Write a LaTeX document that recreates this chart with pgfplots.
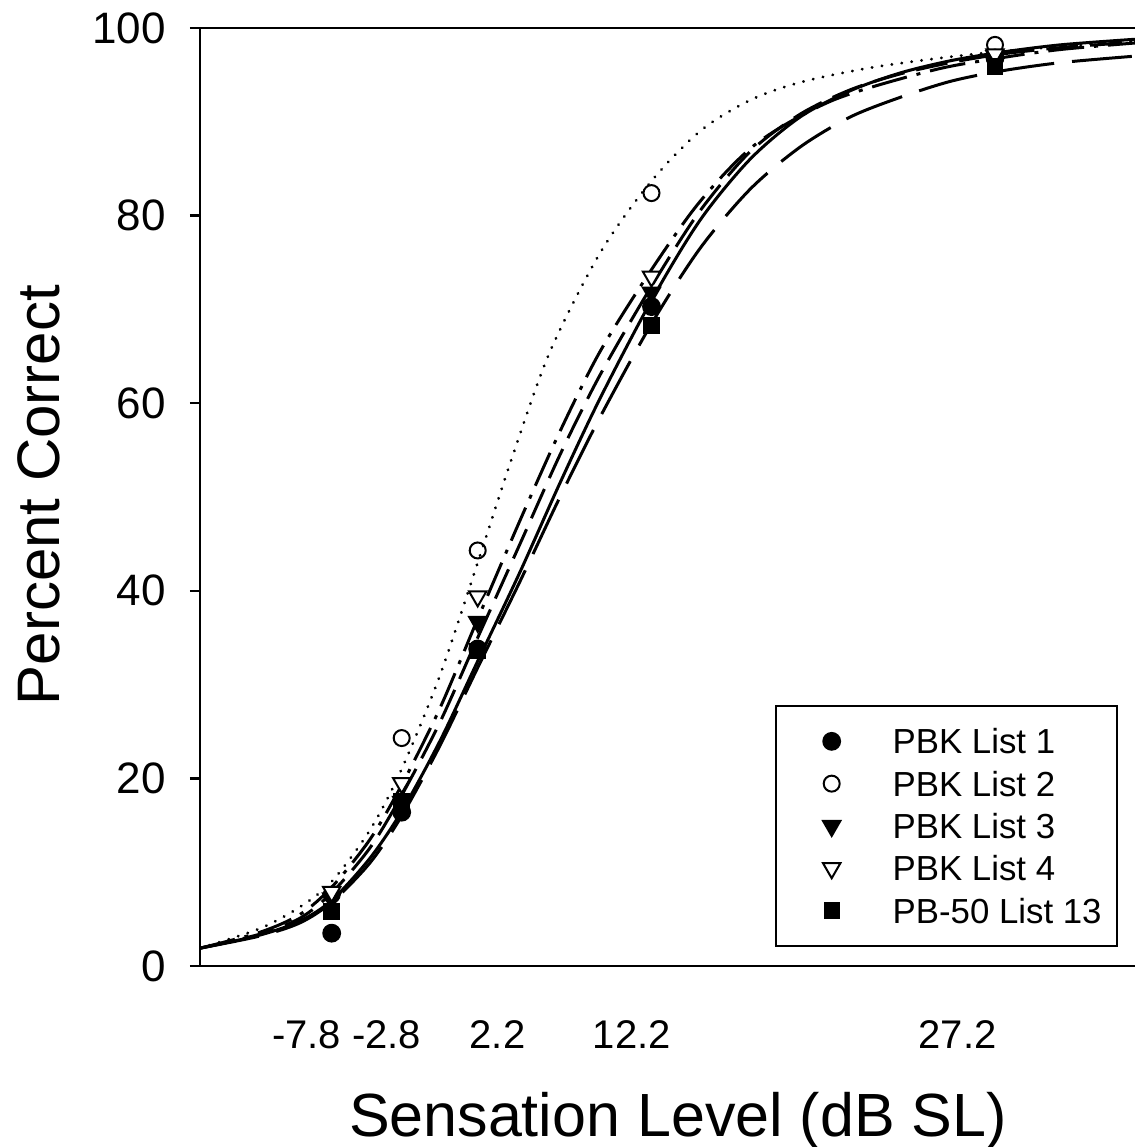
\documentclass[border=0pt]{standalone}
\usepackage{fontspec}
\setmainfont{Liberation Sans}
\usepackage{pgfplots}
\pgfplotsset{compat=1.18}
\pgfplotsset{markonly legend/.style={legend image code/.code={%
    \path[draw=none, fill=none] (0pt,-5pt) rectangle (41pt,5pt);
    \draw[mark repeat=2, mark phase=2, ##1] plot coordinates {(0pt,0pt) (20.5pt,0pt) (41pt,0pt)};}}}

\begin{document}
\begin{tikzpicture}
\begin{axis}[
    scale only axis,
    width=467.5pt, height=469pt,
    xmin=0, xmax=935, ymin=0, ymax=100,
    axis x line=box, axis y line*=left,
    axis line style={-, line width=1.25pt},
    ytick={0,20,40,60,80,100},
    ytick pos=left,
    tick align=outside,
    major tick length=5pt,
    ytick style={line width=1.25pt, black},
    xtick={106.7,186.7,297.5,431.7,757.5},
    xticklabels={\mbox{-7.8},\mbox{-2.8},\mbox{2.2},\mbox{12.2},\mbox{27.2}},
    xtick style={draw=none},
    /pgf/number format/assume math mode=true,
    yticklabel style={font=\fontsize{22}{26}\selectfont, anchor=east, inner sep=0pt, xshift=-12pt},
    xticklabel style={font=\fontsize{20}{24}\selectfont, anchor=base, inner sep=0pt, yshift=-36pt},
    xlabel={Sensation Level (dB SL)},
    xlabel style={at={([yshift=-85.3pt]rel axis cs:0.5112,0)}, anchor=base, inner sep=0pt,
        font=\fontsize{30.5}{36}\selectfont},
    ylabel={Percent Correct},
    ylabel style={at={([xshift=-70pt]rel axis cs:0,0.502)}, anchor=base, inner sep=0pt,
        font=\fontsize{30}{36}\selectfont},
    markonly legend,
    legend cell align=left,
    legend style={at={(axis cs:574.7,27.8)}, anchor=north west, draw=black, line width=1pt,
        fill=white, inner xsep=7.5pt, inner ysep=11.3pt,
        font=\fontsize{17.4}{20}\selectfont,
        nodes={inner sep=0pt, text height=12.5pt, text depth=0pt},
        row sep=8.65pt,
        /tikz/every odd column/.append style={column sep=10pt}},
]
\coordinate (sw) at (rel axis cs:0,0);
\coordinate (ne) at (rel axis cs:1,1);

% fitted curves
\addplot[smooth, black, line width=1.5pt, forget plot] coordinates {
    (0,1.9) (60,3.3) (100,4.8) (131.7,7.0) (170,11.5) (201.7,16.5) (240,24)
    (277.7,32.5) (320,42) (360,51.5) (400,60.5) (451.7,71) (500,79.5) (550,86)
    (600,90.5) (650,93.3) (700,95.2) (750,96.5) (800,97.4) (860,98.2) (935,98.8)
};
\addplot[smooth, black, line width=1.5pt, line cap=round, dash pattern=on 0.1pt off 4.9pt, forget plot] coordinates {
    (0,1.9) (60,4.0) (100,6.3) (131.7,9.0) (170,14.5) (201.7,21) (240,31)
    (277.7,43) (313,54.5) (350,65.5) (400,76) (450,83.5) (500,89.0) (550,92.3)
    (600,94.2) (667,95.7) (733,96.7) (800,97.5) (870,98.1) (935,98.6)
};
\addplot[smooth, black, line width=1.5pt, dash pattern=on 16pt off 6pt, forget plot] coordinates {
    (0,1.9) (60,3.4) (100,5.1) (131.7,7.8) (170,12.6) (201.7,18.2) (240,26)
    (277.7,35) (320,45) (360,54.5) (400,63) (451.7,72.5) (500,80.5) (550,86.8)
    (600,90.8) (650,93.4) (700,95.1) (750,96.3) (800,97.2) (860,97.9) (935,98.5)
};
\addplot[smooth, black, line width=1.5pt, dash pattern=on 18pt off 5pt on 2pt off 5pt, forget plot] coordinates {
    (0,1.9) (60,3.6) (100,5.5) (131.7,8.4) (170,13.5) (201.7,19.3) (240,27.5)
    (277.7,37) (320,47.5) (360,57) (400,65.5) (450,74) (500,81.5) (556.7,87.7)
    (633,92.3) (733,95.5) (800,96.8) (860,97.7) (935,98.4)
};
\addplot[smooth, black, line width=1.5pt, dash pattern=on 30pt off 9pt, forget plot] coordinates {
    (0,1.9) (60,3.2) (100,4.6) (131.7,6.8) (170,11) (201.7,16) (240,23.5)
    (277.7,31.8) (320,41) (360,50) (400,58.5) (451.7,68.5) (500,76.5) (550,82.8)
    (600,87.3) (650,90.5) (700,92.6) (750,94.3) (800,95.4) (860,96.3) (935,97.0)
};

% observed scores
\addplot[only marks, mark=*, mark size=4.2pt, mark options={black, fill=black, line width=1pt}]
    coordinates {(131.7,3.5) (201.7,16.4) (277.7,33.8) (451.5,70.3) (795,96.8)};
\addlegendentry{PBK List 1}
\addplot[only marks, mark=o, mark size=4.0pt, mark options={black, fill=white, line width=1pt}]
    coordinates {(131.7,7.6) (201.7,24.3) (277.7,44.3) (451.5,82.4) (795,98.2)};
\addlegendentry{PBK List 2}
\addplot[only marks, mark=triangle*, mark size=5pt, mark options={black, fill=black, line width=1pt, rotate=180}]
    coordinates {(131.7,7.2) (201.7,17.5) (277.7,36.7) (451.5,71.8) (795,97.0)};
\addlegendentry{PBK List 3}
\addplot[only marks, mark=triangle*, mark size=5pt, mark options={black, fill=white, line width=1pt, rotate=180}]
    coordinates {(131.7,7.9) (201.7,19.5) (277.7,39.4) (451.5,73.5) (795,97.2)};
\addlegendentry{PBK List 4}
\addplot[only marks, mark=square*, mark size=3.6pt, mark options={black, fill=black, line width=1pt}]
    coordinates {(131.7,5.8) (201.7,17.6) (277.7,33.6) (451.5,68.3) (795,95.9)};
\addlegendentry{PB-50 List 13}
\end{axis}
\pgfresetboundingbox
\path ([shift={(-100pt,-90.5pt)}]sw) rectangle ([shift={(0pt,14pt)}]ne);
\end{tikzpicture}
\end{document}
